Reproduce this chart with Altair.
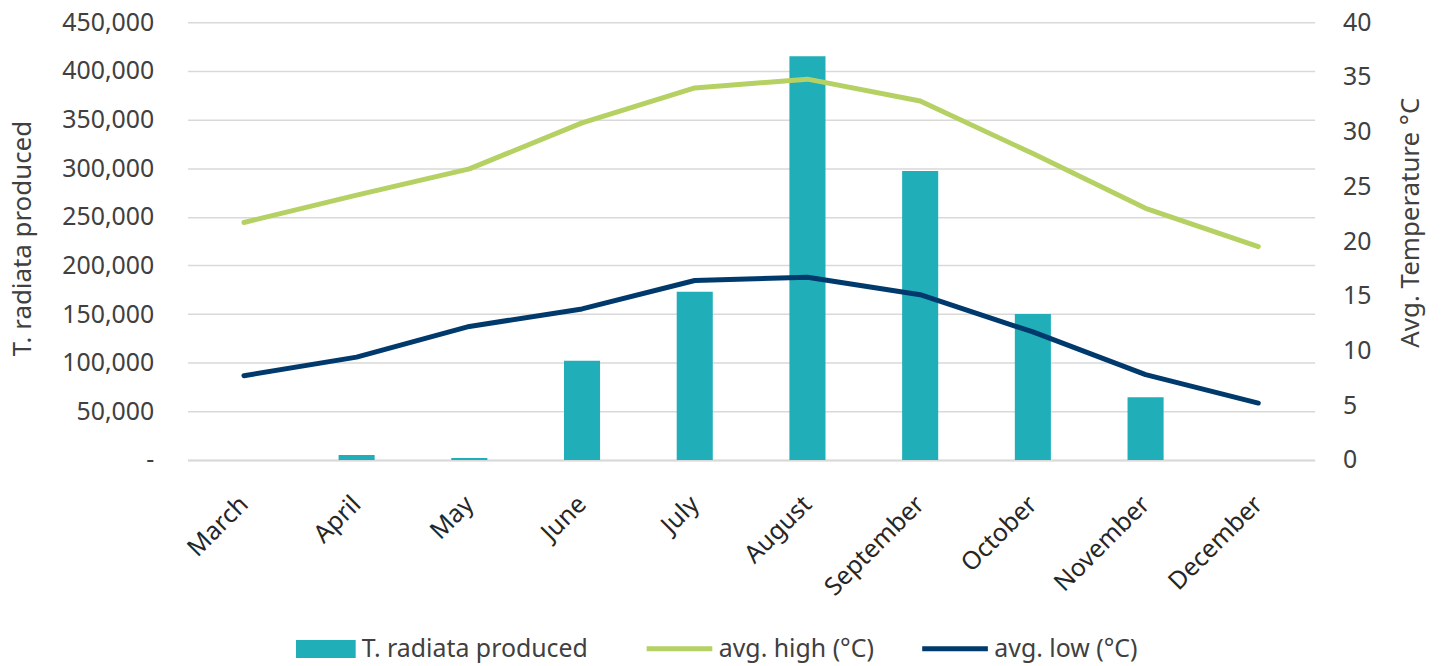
import altair as alt
import pandas as pd

months = ["March", "April", "May", "June", "July", "August",
          "September", "October", "November", "December"]
produced = [0, 5000, 2000, 102000, 173000, 415000, 297000, 150000, 64500, 0]
avg_high = [21.7, 24.2, 26.6, 30.8, 34.0, 34.8, 32.8, 28.0, 23.0, 19.5]
avg_low = [7.7, 9.4, 12.2, 13.8, 16.4, 16.7, 15.1, 11.7, 7.8, 5.2]

bar_name = "T. radiata produced"
line_names = ["avg. high (°C)", "avg. low (°C)"]
left_ticks = [0, 50000, 100000, 150000, 200000, 250000, 300000, 350000, 400000, 450000]
right_ticks = [0, 5, 10, 15, 20, 25, 30, 35, 40]

BAR_COLOR = "#20AEB9"
HIGH_COLOR = "#B5D163"
LOW_COLOR = "#003A6C"
FONT = "Noto Sans"

df_bar = pd.DataFrame({"month": months, "produced": produced, "bar_series": [bar_name] * len(months)})
df_line = pd.concat([
    pd.DataFrame({"month": months, "temp": avg_high, "line_series": line_names[0]}),
    pd.DataFrame({"month": months, "temp": avg_low, "line_series": line_names[1]}),
])

x_enc = alt.X(
    "month:N",
    sort=months,
    scale=alt.Scale(paddingInner=0.68, paddingOuter=0.34),
    axis=alt.Axis(
        title=None, labelAngle=315, labelAlign="right", labelBaseline="middle",
        labelPadding=40, ticks=False, domainColor="#D9D9D9", domainWidth=2,
        labelFontSize=25, labelColor="#262626", labelFont=FONT, grid=False,
        labelOverlap=False,
    ),
)

bars = alt.Chart(df_bar).mark_bar().encode(
    x=x_enc,
    y=alt.Y(
        "produced:Q",
        scale=alt.Scale(domain=[0, 450000], nice=False),
        axis=alt.Axis(
            values=left_ticks, title="T. radiata produced", titleAngle=270,
            titleX=-166, titleY=217, titleAlign="center", titleBaseline="middle",
            titleFontSize=26, titleFont=FONT, titleFontWeight="normal", titleColor="#404040",
            labelExpr="datum.value == 0 ? '-\u00a0\u00a0' : format(datum.value, ',')",
            labelFontSize=25, labelFont=FONT, labelColor="#404040", labelPadding=34,
            ticks=False, domain=False, grid=True, gridColor="#D9D9D9", gridWidth=1.5,
        ),
    ),
    color=alt.Color(
        "bar_series:N",
        scale=alt.Scale(domain=[bar_name], range=[BAR_COLOR]),
        legend=alt.Legend(
            title=None, orient="none", legendX=109, legendY=600, direction="horizontal",
            symbolType="M-1,-0.3H1V0.3H-1Z", symbolSize=3600, symbolStrokeWidth=0,
            symbolOpacity=1, labelLimit=400,
            labelFontSize=25, labelFont=FONT, labelColor="#404040", labelOffset=6,
        ),
    ),
)

lines = alt.Chart(df_line).mark_line(strokeWidth=5, strokeCap="round", strokeJoin="round").encode(
    x=alt.X("month:N", sort=months),
    y=alt.Y(
        "temp:Q",
        scale=alt.Scale(domain=[0, 40], nice=False),
        axis=alt.Axis(
            orient="right", values=right_ticks, title="Avg. Temperature °C", titleAngle=270,
            titleX=96, titleY=201, titleAlign="center", titleBaseline="middle",
            titleFontSize=26, titleFont=FONT, titleFontWeight="normal", titleColor="#404040",
            labelFontSize=25, labelFont=FONT, labelColor="#404040", labelPadding=28,
            ticks=False, domain=False, grid=False,
        ),
    ),
    stroke=alt.Stroke(
        "line_series:N",
        sort=line_names,
        scale=alt.Scale(domain=line_names, range=[HIGH_COLOR, LOW_COLOR]),
        legend=alt.Legend(
            title=None, orient="none", legendX=459, legendY=594, direction="horizontal",
            symbolType="stroke", symbolSize=4356, symbolStrokeWidth=5, labelLimit=400,
            labelFontSize=25, labelFont=FONT, labelColor="#404040", labelOffset=4,
            columnPadding=37,
        ),
    ),
)

chart = alt.layer(bars, lines).resolve_scale(y="independent").properties(
    width=1133, height=440,
    autosize=alt.AutoSizeParams(type="none"),
    padding={"left": 180.5, "top": 12.6, "right": 122, "bottom": 205},
).configure_view(stroke=None)

chart.save("out.html", embed_options={"renderer": "svg", "actions": False})
